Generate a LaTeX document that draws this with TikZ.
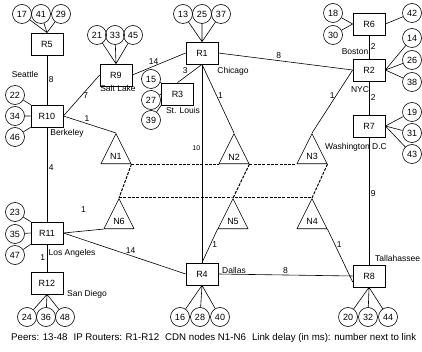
\documentclass[tikz,border=0pt]{standalone}
\usepackage{fontspec}
\setmainfont{Liberation Sans}
\usetikzlibrary{shapes.geometric}

\begin{document}
\begin{tikzpicture}[x=1pt, y=-1pt,
    router/.style={rectangle, draw, line width=0.7pt, minimum width=32pt,
                   minimum height=22pt, inner sep=0pt, font=\fontsize{9}{10}\selectfont},
    peer/.style={circle, draw, line width=0.6pt, minimum size=19pt, inner sep=0pt,
                 font=\fontsize{9}{10}\selectfont},
    cdn/.style={isosceles triangle, isosceles triangle stretches, shape border rotate=90,
                draw, line width=0.6pt, minimum width=30pt, minimum height=30pt,
                inner sep=0pt, font=\fontsize{9}{10}\selectfont},
    city/.style={font=\fontsize{8.5}{9}\selectfont, inner sep=0pt},
    delay/.style={font=\fontsize{8.5}{9}\selectfont, inner sep=1.5pt},
    link/.style={line width=0.6pt},
    cdnlink/.style={line width=1pt, dash pattern=on 3pt off 1.3pt},
]
\useasboundingbox (0,0) rectangle (422,352);

% IP routers
\node[router] (R5) at (47,44) {R5};
\node[router] (R10) at (47,116) {R10};
\node[router] (R11) at (47,233) {R11};
\node[router] (R12) at (47,283) {R12};
\node[router] (R9) at (116,75) {R9};
\node[router] (R1) at (202,53) {R1};
\node[router] (R3) at (177.5,94) {R3};
\node[router] (R4) at (202,274) {R4};
\node[router] (R6) at (369,24) {R6};
\node[router] (R2) at (369,70) {R2};
\node[router] (R7) at (369,126) {R7};
\node[router] (R8) at (369,276) {R8};

% City names
\node[city] at (25,74) {Seattle};
\node[city] at (67,133) {Berkeley};
\node[city] at (72,253) {Los Angeles};
\node[city] at (87,294) {San Diego};
\node[city] at (118,88) {Salt Lake};
\node[city] at (233,71) {Chicago};
\node[city] at (183,110) {St. Louis};
\node[city, anchor=south west] at (222,273.5) {Dallas};
\node[city] at (355,52) {Boston};
\node[city] at (360,90) {NYC};
\node[city] at (356,147) {Washington D.C};
\node[city, anchor=west] at (375,258) {Tallahassee};

% CDN nodes
\node[cdn, anchor=apex] (N1) at (116,133) {N1};
\node[cdn, anchor=apex] (N2) at (234,133) {N2};
\node[cdn, anchor=apex] (N3) at (312,133) {N3};
\node[cdn, anchor=apex] (N6) at (119,198) {N6};
\node[cdn, anchor=apex] (N5) at (233,198) {N5};
\node[cdn, anchor=apex] (N4) at (312,198) {N4};

% Router links with delays
\draw[link] (R5) -- node[delay, right] {8} (R10);
\draw[link] (R10) -- node[delay, right, pos=.43] {4} (R11);
\draw[link] (R11) -- node[delay, left] {1} (R12);
\draw[link] (R10.east) -- node[delay, right] {7} (R9.west);
\draw[link] (R10.east) -- node[delay, above, pos=.45] {1} (N1.apex);
\draw[link] (R9.east) -- node[delay, above, pos=.4] {14} (R1.west);
\draw[link] (R1.south) -- node[delay, left=4pt, pos=.35] {3} (R3.north);
\draw[link] (R1.south) -- node[delay, right, pos=.45] {1} (N2.apex);
\draw[link] (R1.south) -- node[delay, left, pos=.42, font=\fontsize{7}{8}\selectfont] {10} (R4.north);
\draw[link] (R1.east) -- node[delay, above, pos=.45] {8} (R2.west);
\draw[link] (R6) -- node[delay, right] {2} (R2);
\draw[link] (R2) -- node[delay, right] {2} (R7);
\draw[link] (R2.west) -- node[delay, left, pos=.4] {1} (N3.apex);
\draw[link] (R7) -- node[delay, right, pos=.44] {9} (R8);
\draw[link] (R11.east) -- node[delay, above=17pt] {1} (N6.left corner);
\draw[link] (R11.east) -- node[delay, above, pos=.55] {14} (R4.west);
\draw[link] (N5.left corner) -- node[delay, right, pos=.45] {1} (R4.north);
\draw[link] (R4.east) -- node[delay, above, pos=.5] {8} (R8.west);
\draw[link] (N4.right corner) -- node[delay, right, pos=.3] {1} (R8.200);

% Overlay between CDN nodes
\draw[cdnlink] (N1.right corner) -- (N2.left corner);
\draw[cdnlink] (N2.right corner) -- (N3.left corner);
\draw[cdnlink] (N1.right corner) -- (N6.apex);
\draw[cdnlink] (N2.right corner) -- (N5.apex);
\draw[cdnlink] (N3.right corner) -- (N4.apex);
\draw[cdnlink] (N6.apex) -- (N5.apex) -- (N4.apex);

% Peers
\node[peer] (p17) at (22,14) {17};
\node[peer] (p41) at (41,14) {41};
\node[peer] (p29) at (61,14) {29};
\draw[link] (p17) -- (R5.north) (p41) -- (R5.north) (p29) -- (R5.north);

\node[peer] (p22) at (15,95) {22};
\node[peer] (p34) at (15,116) {34};
\node[peer] (p46) at (15,137) {46};
\draw[link] (p22) -- (R10.north west) (p34) -- (R10.west) (p46) -- (R10.south west);

\node[peer] (p23) at (15,212) {23};
\node[peer] (p35) at (15,234) {35};
\node[peer] (p47) at (15,255) {47};
\draw[link] (p23) -- (R11.north west) (p35) -- (R11.west) (p47) -- (R11.south west);

\node[peer] (p24) at (27,317) {24};
\node[peer] (p36) at (46,317) {36};
\node[peer] (p48) at (65,317) {48};
\draw[link] (p24) -- (R12.south) (p36) -- (R12.south) (p48) -- (R12.south);

\node[peer] (p21) at (97,35) {21};
\node[peer] (p33) at (115,35) {33};
\node[peer] (p45) at (133,35) {45};
\draw[link] (p21) -- (R9.north) (p33) -- (R9.north) (p45) -- (R9.north);

\node[peer] (p13) at (183,14) {13};
\node[peer] (p25) at (202,14) {25};
\node[peer] (p37) at (221,14) {37};
\draw[link] (p13) -- (R1.north) (p25) -- (R1.north) (p37) -- (R1.north);

\node[peer] (p15) at (151,79) {15};
\node[peer] (p27) at (151,100) {27};
\node[peer] (p39) at (151,120) {39};
\draw[link] (p15) -- (R3.north west) (p27) -- (R3.west) (p39) -- (R3.south west);

\node[peer] (p16) at (180,317) {16};
\node[peer] (p28) at (200,317) {28};
\node[peer] (p40) at (220,317) {40};
\draw[link] (p16) -- (R4.south) (p28) -- (R4.south) (p40) -- (R4.south);

\node[peer] (p18) at (333,13) {18};
\node[peer] (p30) at (333,35) {30};
\node[peer] (p42) at (412,13) {42};
\draw[link] (p18) -- (R6.west) (p30) -- (R6.west) (p42) -- (R6.east);

\node[peer] (p14) at (412,38) {14};
\node[peer] (p26) at (412,60) {26};
\node[peer] (p38) at (412,82) {38};
\draw[link] (p14) -- (R2.east) (p26) -- (R2.east) (p38) -- (R2.east);

\node[peer] (p19) at (412,112) {19};
\node[peer] (p31) at (412,133) {31};
\node[peer] (p43) at (412,154) {43};
\draw[link] (p19) -- (R7.east) (p31) -- (R7.east) (p43) -- (R7.east);

\node[peer] (p20) at (348,317) {20};
\node[peer] (p32) at (368,317) {32};
\node[peer] (p44) at (388,317) {44};
\draw[link] (p20) -- (R8.south) (p32) -- (R8.south) (p44) -- (R8.south);

% Legend line
\node[anchor=west, inner sep=0pt, font=\fontsize{9.7}{11}\selectfont] (legend) at (11,338)
    {Peers: 13-48\hspace{6pt}IP Routers: R1-R12\hspace{6pt}CDN nodes N1-N6\hspace{6pt}Link delay (in ms): number next to link};
\end{tikzpicture}
\end{document}
